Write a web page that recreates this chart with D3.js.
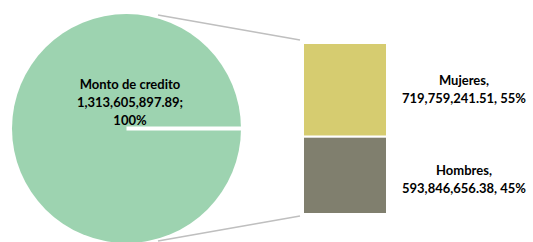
<!DOCTYPE html>
<html>
<head>
<meta charset="utf-8">
<script src="https://cdn.jsdelivr.net/npm/d3@7"></script>
<style>
  body { margin: 0; background: #fff; }
  text { font-family: Lato, "Open Sans", sans-serif; font-weight: bold; fill: #000; }
</style>
</head>
<body>
<div id="chart"></div>
<script>
// totals for the pie side
const pieCategories = ['Monto de credito'];
const pieValues = [1313605897.89];

// breakdown shown in the bar
const barCategories = ['Mujeres', 'Hombres'];
const barValues = [719759241.51, 593846656.38];
const barColors = ['#d6cc70', '#807f6e'];

const width = 533, height = 242;
const svg = d3.select('#chart').append('svg')
    .attr('width', width)
    .attr('height', height);

const cx = 126.5, cy = 128.5, r = 114.5;
const fmt = d3.format(',.2f');
const total = d3.sum(barValues);

// connector lines drawn first so the pie covers their ends
const barX = 303, barW = 84;
const y = d3.scaleLinear().domain([0, total]).range([43, 214]);

svg.append('line')
    .attr('x1', 158).attr('y1', 15)
    .attr('x2', 300).attr('y2', y(0) - 3)
    .attr('stroke', '#bfbfbf').attr('stroke-width', 1.5);
svg.append('line')
    .attr('x1', 158).attr('y1', 241)
    .attr('x2', 300).attr('y2', y(total) + 2)
    .attr('stroke', '#bfbfbf').attr('stroke-width', 1.5);

// pie (single 100% slice) starting at 3 o'clock
const pie = d3.pie().sort(null)
    .startAngle(Math.PI / 2)
    .endAngle(Math.PI / 2 + 2 * Math.PI);
const arc = d3.arc().innerRadius(0).outerRadius(r);

const g = svg.append('g').attr('transform', `translate(${cx},${cy})`);
g.selectAll('path')
    .data(pie(pieValues))
    .enter()
    .append('path')
    .attr('d', arc)
    .attr('fill', '#9dd3b0');

// slice border at the start angle
g.append('line')
    .attr('x1', 0).attr('y1', 0)
    .attr('x2', r + 1).attr('y2', 0)
    .attr('stroke', '#fff').attr('stroke-width', 4);

const pieLabel = svg.append('text')
    .attr('text-anchor', 'middle')
    .style('font-size', '13px');
[pieCategories[0], fmt(pieValues[0]) + ';', '100%'].forEach((t, i) => {
    pieLabel.append('tspan')
        .attr('x', 130)
        .attr('y', 89 + i * 18)
        .text(t);
});

// stacked bar
let acc = 0;
const stack = barValues.map(v => {
    const s = { y0: acc, y1: acc + v };
    acc += v;
    return s;
});

svg.selectAll('rect.seg')
    .data(stack)
    .enter()
    .append('rect')
    .attr('class', 'seg')
    .attr('x', barX)
    .attr('y', d => y(d.y0))
    .attr('width', barW)
    .attr('height', d => y(d.y1) - y(d.y0))
    .attr('fill', (d, i) => barColors[i])
    .attr('stroke', '#fff')
    .attr('stroke-width', 2);

// bar labels
const labelY = [85, 175];
barCategories.forEach((c, i) => {
    const t = svg.append('text')
        .attr('text-anchor', 'middle')
        .style('font-size', '13px');
    t.append('tspan').attr('x', 464).attr('y', labelY[i]).text(c + ',');
    t.append('tspan').attr('x', 464).attr('y', labelY[i] + 18)
        .text(fmt(barValues[i]) + ', ' + Math.round(barValues[i] / total * 100) + '%');
});
</script>
</body>
</html>
